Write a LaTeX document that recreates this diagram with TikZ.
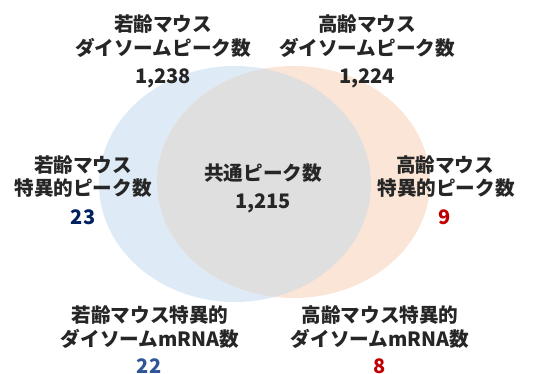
\documentclass[tikz,border=0pt]{standalone}
\usepackage{fontspec}
\setmainfont{Noto Sans CJK JP}
\definecolor{txt}{HTML}{262626}
\definecolor{bluefill}{HTML}{DEEBF7}
\definecolor{orangefill}{HTML}{FBE5D6}
\definecolor{grayfill}{HTML}{E0DFDF}
\definecolor{navy}{HTML}{002060}
\definecolor{midblue}{HTML}{2F5597}
\definecolor{darkred}{HTML}{C00000}
\tikzset{
  lbl/.style={font=\fontsize{19.6}{23}\selectfont\bfseries, text=txt, inner sep=0pt, anchor=base},
  num/.style={lbl, font=\fontsize{20}{23}\selectfont\bfseries}
}
\begin{document}
\begin{tikzpicture}[x=1pt,y=-1pt]
\useasboundingbox (0,0) rectangle (545,374);
% ellipses
\fill[bluefill] (235,184) ellipse [x radius=136, y radius=118];
\fill[orangefill] (293.5,182) ellipse [x radius=136.5, y radius=116];
\begin{scope}
  \clip (235,184) ellipse [x radius=136, y radius=118];
  \fill[grayfill] (293.5,182) ellipse [x radius=136.5, y radius=116];
\end{scope}
% top left
\node[lbl] (tl1) at (163,32) {若齢マウス};
\node[lbl] (tl2) at (163,56) {ダイソームピーク数};
\node[num] (tln) at (163,84) {1,238};
% top right
\node[lbl] (tr1) at (367,32) {高齢マウス};
\node[lbl] (tr2) at (367,56) {ダイソームピーク数};
\node[num] (trn) at (367,84) {1,224};
% middle left
\node[lbl] (ml1) at (83,172) {若齢マウス};
\node[lbl] (ml2) at (83,195) {特異的ピーク数};
\node[num, text=navy] (mln) at (83,224) {23};
% center
\node[lbl] (c1) at (263,180) {共通ピーク数};
\node[num] (cn) at (263,208) {1,215};
% middle right
\node[lbl] (mr1) at (445,172) {高齢マウス};
\node[lbl] (mr2) at (446,195) {特異的ピーク数};
\node[num, text=darkred] (mrn) at (445,224) {9};
% bottom left
\node[lbl] (bl1) at (150,322) {若齢マウス特異的};
\node[lbl] (bl2) at (150,346) {ダイソームmRNA数};
\node[num, text=midblue] (bln) at (149,373) {22};
% bottom right
\node[lbl] (br1) at (380,322) {高齢マウス特異的};
\node[lbl] (br2) at (380,346) {ダイソームmRNA数};
\node[num, text=darkred] (brn) at (380,373) {8};
\end{tikzpicture}
\end{document}
